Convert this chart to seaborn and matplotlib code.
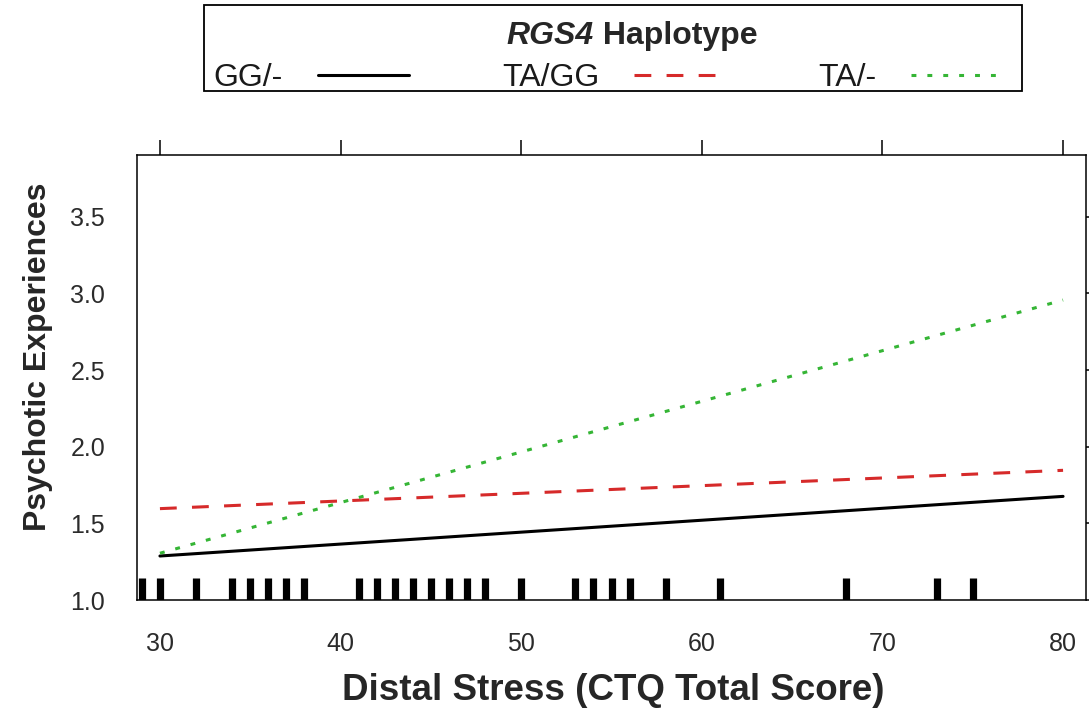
import numpy as np
import pandas as pd
import seaborn as sns
import matplotlib.pyplot as plt
from matplotlib.patches import Rectangle

# Fitted psychotic-experience scores at the ends of the CTQ range
ctq_range = [30, 80]
gg_minus = [1.287, 1.676]
ta_gg = [1.596, 1.846]
ta_minus = [1.305, 2.957]
haplotypes = ["GG/-", "TA/GG", "TA/-"]

# Observed CTQ total scores (rug)
ctq_observed = [29, 30, 32, 34, 35, 36, 37, 38, 41, 42, 43, 44, 45, 46, 47, 48,
                50, 53, 54, 55, 56, 58, 61, 68, 73, 75]

x_ticks = [30, 40, 50, 60, 70, 80]
y_ticks = [1.0, 1.5, 2.0, 2.5, 3.0, 3.5]
y_tick_labels = ["1.0", "1.5", "2.0", "2.5", "3.0", "3.5"]

sns.set_theme(style="white")
plt.rcParams["font.family"] = ["Liberation Sans", "DejaVu Sans"]

df = pd.DataFrame({
    "ctq": ctq_range * 3,
    "pe": gg_minus + ta_gg + ta_minus,
    "hap": [h for h in haplotypes for _ in ctq_range],
})

W, H = 1089, 718
fig = plt.figure(figsize=(W / 100, H / 100), dpi=100)
left, right, top, bottom = 137, 1086, 155, 600
ax = fig.add_axes([left / W, 1 - bottom / H, (right - left) / W, (bottom - top) / H])

colors = {"GG/-": "black", "TA/GG": "#d62a2a", "TA/-": "#35b535"}
dash_styles = {"GG/-": "", "TA/GG": (5.5, 5.0), "TA/-": (1.6, 3.6)}

sns.lineplot(data=df, x="ctq", y="pe", hue="hap", style="hap",
             hue_order=haplotypes, style_order=haplotypes,
             palette=colors, dashes=dash_styles, lw=2.2,
             legend=False, ax=ax)
sns.rugplot(x=ctq_observed, height=0.05, linewidth=5.2, color="black",
            ax=ax, expand_margins=False)

ax.set_xlim(28.73, 81.27)
ax.set_ylim(1.0, 3.903)
ax.set_xticks(x_ticks)
ax.set_yticks(y_ticks, y_tick_labels)
ax.tick_params(direction="out", length=11, width=1.1, color="black",
               top=True, right=True, labeltop=False, labelright=False,
               labelsize=18, labelcolor="#2b2b2b", pad=12)
for s in ax.spines.values():
    s.set_color("black")
    s.set_linewidth(1.1)

ax.set_xlabel("Distal Stress (CTQ Total Score)", fontsize=26.5,
              fontweight="bold")
ax.set_ylabel("Psychotic Experiences", fontsize=23, fontweight="bold")
ax.xaxis.set_label_coords((613 - left) / (right - left), (bottom - 690) / (bottom - top))
ax.yaxis.set_label_coords((38 - left) / (right - left), (bottom - 357) / (bottom - top))
ax.xaxis.label.set_verticalalignment("center")
ax.yaxis.label.set_verticalalignment("center")

# Key box above the panel
fig.patches.append(Rectangle((204 / W, 1 - 91 / H), (1022 - 204) / W, (91 - 5) / H,
                             transform=fig.transFigure, fill=False,
                             edgecolor="black", linewidth=1.3))

fig.legend(handles=ax.lines[:3], labels=haplotypes, ncol=3, markerfirst=False,
           frameon=False, fontsize=23, handlelength=2.85, handletextpad=1.1,
           columnspacing=2.9, loc="center", bbox_to_anchor=(608 / W, 1 - 78 / H),
           borderpad=0, labelcolor="#1a1a1a")

# Key title: italic gene name followed by plain bold word
t1 = fig.text(0, 1 - 44 / H, "RGS4", fontsize=23, fontweight="bold",
              fontstyle="italic", ha="left", va="baseline")
t2 = fig.text(0, 1 - 44 / H, " Haplotype", fontsize=23, fontweight="bold",
              ha="left", va="baseline")
fig.canvas.draw()
r = fig.canvas.get_renderer()
w1 = t1.get_window_extent(r).width
w2 = t2.get_window_extent(r).width
x0 = 632 - (w1 + w2) / 2
t1.set_x(x0 / W)
t2.set_x((x0 + w1) / W)

fig.savefig("out.png", dpi=100)
